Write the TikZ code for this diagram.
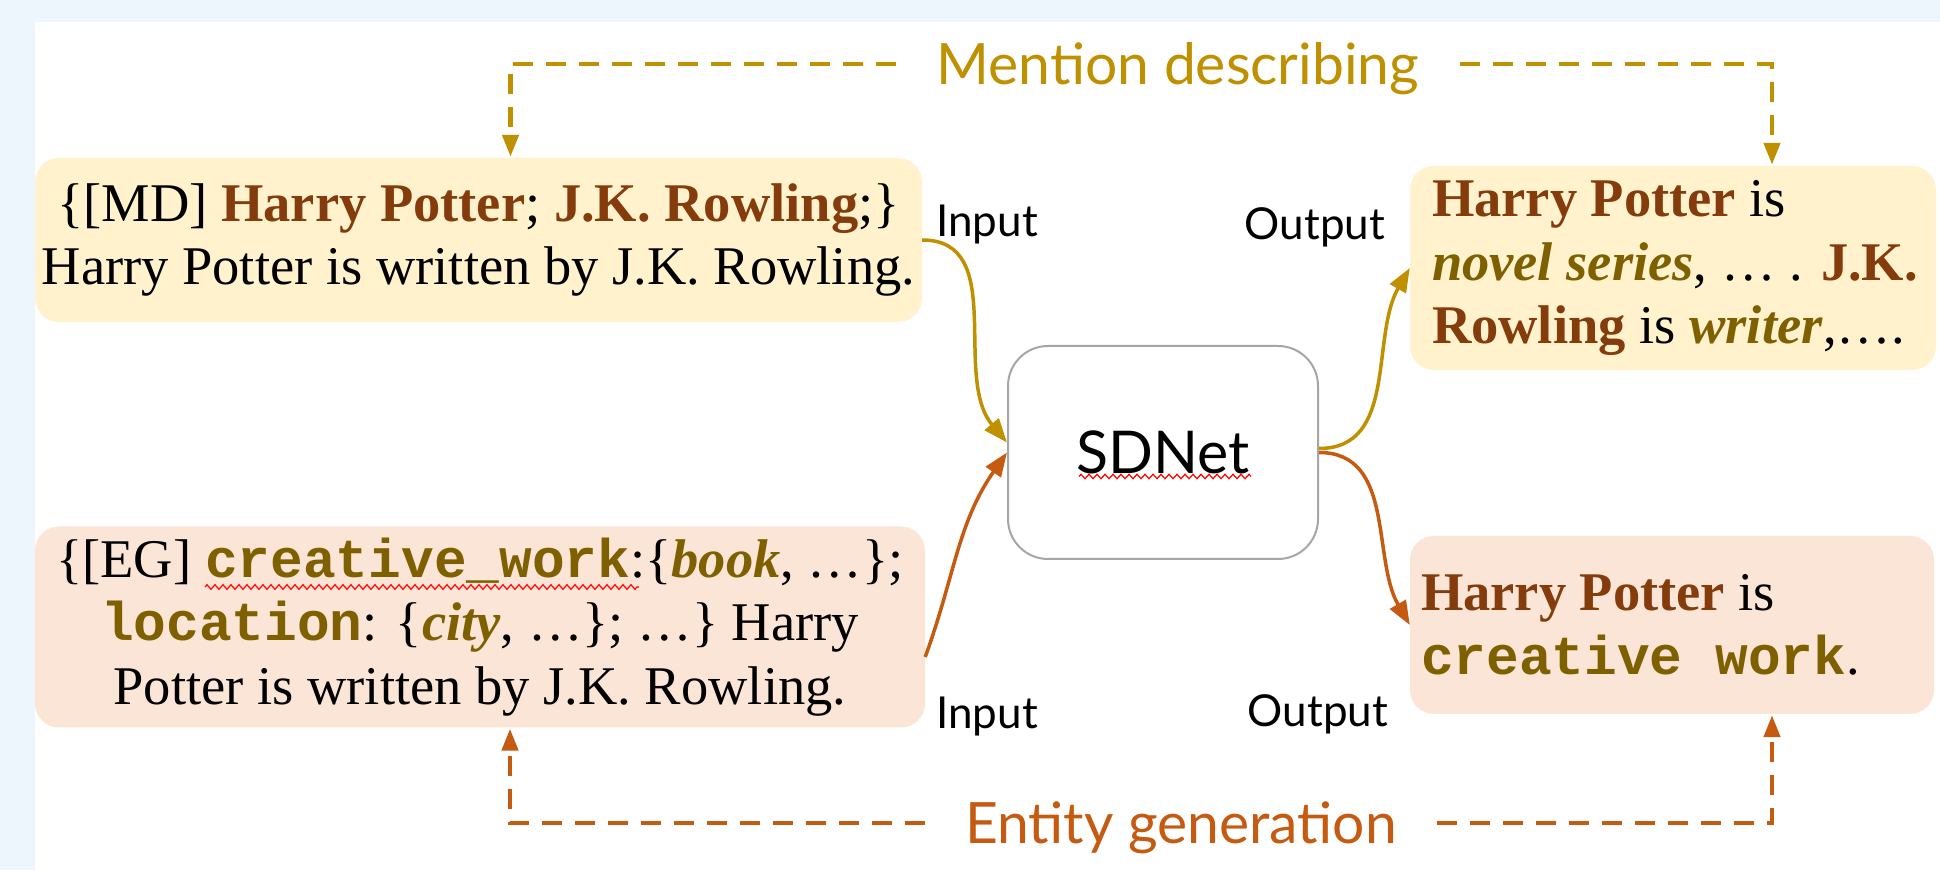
\documentclass[tikz,border=0pt]{standalone}
\usepackage{fontspec}
\setmainfont{Liberation Serif}
\setmonofont{Liberation Mono}
\newfontfamily\labelfont{Lato}
\usetikzlibrary{arrows.meta,decorations.pathmorphing}

\definecolor{mdgold}{HTML}{BF9000}
\definecolor{egorange}{HTML}{C55A11}
\definecolor{namebrown}{HTML}{843C0C}
\definecolor{typeolive}{HTML}{7F6000}
\definecolor{mdfill}{HTML}{FFF2CC}
\definecolor{egfill}{HTML}{FBE5D6}
\definecolor{pagebg}{HTML}{EEF6FD}

\newcommand{\ent}[1]{\textcolor{namebrown}{\textbf{#1}}}
\newcommand{\etype}[1]{\textcolor{typeolive}{\textbf{\textit{#1}}}}
\newcommand{\ecode}[1]{\textcolor{typeolive}{\texttt{\textbf{#1}}}}

\tikzset{
    textbox/.style={rounded corners=24pt, inner ysep=0pt,
        font=\fontsize{54.5}{63.5}\selectfont},
    flowlabel/.style={font=\labelfont\fontsize{44}{44}\selectfont},
    looplabel/.style={font=\labelfont\fontsize{57}{57}\selectfont, inner xsep=40pt,
        text height=41pt, text depth=0pt},
    loopline/.style={line width=4.5pt, dash pattern=on 20pt off 13pt,
        -{Triangle[length=22pt,width=16pt]}, shorten >=1pt},
    feed/.style={line width=3.5pt, -{Triangle[length=24pt,width=18pt]}},
    spell/.style={red, line width=1.2pt, decorate,
        decoration={zigzag, segment length=8pt, amplitude=2.2pt}},
}

\begin{document}
\begin{tikzpicture}[x=1pt,y=1pt]
        \fill[pagebg] (0,0) rectangle (1940,870);
        \fill[white] (35,0) rectangle (1940,848);
        % boxes
        \node[textbox, fill=mdfill, minimum width=887pt, minimum height=164pt, align=center]
            (mdbox) at (478.5,630) {\{[MD] \ent{Harry Potter}; \ent{J.K. Rowling};\}\\
            Harry Potter is written by J.K. Rowling.};
        \node[textbox, fill=egfill, minimum width=890pt, minimum height=201pt, align=center]
            (egbox) at (480,243) {\{[EG] \ecode{creative\_work}:\{\etype{book}, …\};\\
            \ecode{location}: \{\etype{city}, …\}; …\} Harry\\
            Potter is written by J.K. Rowling.};
        \node[textbox, fill=mdfill, minimum width=526pt, minimum height=204pt,
            inner xsep=22pt, text width=482pt, align=flush left]
            (rtbox) at (1673,602) {\mbox{\ent{Harry Potter} is}\\
            \mbox{\etype{novel series}, … . \ent{J.K.}}\\
            \mbox{\ent{Rowling} is \etype{writer},….}};
        \node[textbox, fill=egfill, minimum width=524pt, minimum height=178pt,
            inner xsep=11pt, text width=502pt, align=flush left]
            (rbbox) at (1672,245) {\mbox{\ent{Harry Potter} is}\\
            \mbox{\ecode{creative work}.}};
        \node[draw=black!35, line width=2pt, rounded corners=40pt, minimum width=310pt,
            minimum height=213pt, font=\labelfont\fontsize{59}{59}\selectfont]
            (sdnet) at (1163,417.5) {SDNet};
        % labels
        \foreach \name/\pos/\txt in {intop/{(987,645)}/Input, outtop/{(1315,643)}/Output,
                inbot/{(987,153)}/Input, outbot/{(1318,156)}/Output} {
            \node[flowlabel] (\name) at \pos {\txt};
        }
        \node[looplabel, text=mdgold] (mention) at (1178,806) {Mention describing};
        \node[looplabel, text=egorange] (entity) at (1181,47) {Entity generation};
        % loops
        \draw[loopline, mdgold] (mention.west) -| ([xshift=32pt]mdbox.north);
        \draw[loopline, mdgold] (mention.east) -| ([xshift=99pt]rtbox.north);
        \draw[loopline, egorange] (entity.west) -| ([xshift=30pt]egbox.south);
        \draw[loopline, egorange] (entity.east) -| ([xshift=100pt]rbbox.south);
        % feeds
        \draw[feed, mdgold] (mdbox.east) to[out=0, in=130] ([yshift=10pt]sdnet.west);
        \draw[feed, egorange] ([yshift=-30pt]egbox.east) to[out=70, in=235] (sdnet.west);
        \draw[feed, mdgold] ([yshift=4pt]sdnet.east) to[out=0, in=240] (rtbox.west);
        \draw[feed, egorange] (sdnet.east) to[out=0, in=120] (rbbox.west);
        % spell marks
        \draw[spell] ([shift={(-275pt,40pt)}]egbox.center) -- ([shift={(159pt,40pt)}]egbox.center);
        \draw[spell] ([shift={(-84pt,-24pt)}]sdnet.center) -- ([shift={(88pt,-24pt)}]sdnet.center);
\end{tikzpicture}
\end{document}
